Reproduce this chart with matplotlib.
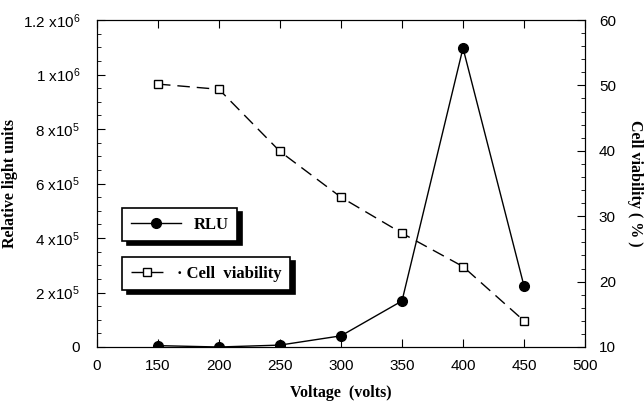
import matplotlib.pyplot as plt
from matplotlib.ticker import MultipleLocator

plt.rcParams['font.family'] = 'Liberation Sans'
plt.rcParams['mathtext.fontset'] = 'custom'
plt.rcParams['mathtext.rm'] = 'Liberation Sans'
plt.rcParams['mathtext.it'] = 'Liberation Sans'

# tick labels on the x axis (equally spaced on the original)
x_labels = ["0", "150", "200", "250", "300", "350", "400", "450", "500"]
voltage = [150, 200, 250, 300, 350, 400, 450]
rlu = [5000, 0, 7000, 41000, 169000, 1097000, 224000]
viability = [50.2, 49.4, 39.9, 32.9, 27.4, 22.3, 14.0]
rlu_labels = ["0", r"2 x10$^5$", r"4 x10$^5$", r"6 x10$^5$", r"8 x10$^5$",
              r"1 x10$^6$", r"1.2 x10$^6$"]

pos = [x_labels.index(str(v)) for v in voltage]

fig = plt.figure(figsize=(6.44, 4.03), dpi=100)
ax = fig.add_axes([97 / 644, 1 - 347 / 403, 488 / 644, 327 / 403])
ax2 = ax.twinx()

l1, = ax.plot(pos, rlu, color='k', lw=1, marker='o', ms=7, label="RLU")
l2, = ax2.plot(pos, viability, color='k', lw=1, ls=(0, (9, 5)), marker='s',
               ms=6, mfc='white', label="· Cell  viability")

ax.set_xlim(0, 8)
ax.set_ylim(0, 1.2e6)
ax2.set_ylim(10, 60)
ax.set_xticks(range(9))
ax.set_xticklabels(x_labels)
ax.set_yticks([i * 2e5 for i in range(7)])
ax.set_yticklabels(rlu_labels)
ax.yaxis.set_minor_locator(MultipleLocator(5e4))
ax2.set_yticks([10, 20, 30, 40, 50, 60])
ax2.yaxis.set_minor_locator(MultipleLocator(2))

ax.tick_params(axis='both', which='both', direction='in', labelsize=11)
ax.tick_params(axis='x', top=True, length=6, pad=9)
ax.tick_params(axis='y', which='major', length=6, pad=12)
ax.tick_params(axis='y', which='minor', length=3)
ax2.tick_params(axis='y', which='both', direction='in', labelsize=11)
ax2.tick_params(axis='y', which='major', length=6, pad=10)
ax2.tick_params(axis='y', which='minor', length=3)

serif = dict(family='Liberation Serif', weight='bold', size=11.5)
ax.set_xlabel("Voltage  (volts)", fontdict=serif, labelpad=8)
ax.set_ylabel("Relative light units", fontdict=serif)
ax.yaxis.set_label_coords(-0.162, 0.5)
ax2.set_ylabel("Cell viability ( % )", fontdict=serif, rotation=270,
               va='center')
ax2.yaxis.set_label_coords(1.102, 0.5)

legprop = dict(family='Liberation Serif', weight='bold', size=12)
shadow = dict(color='k', alpha=1, ox=3, oy=-3)
leg1 = ax2.legend(handles=[l1], loc='upper left', bbox_to_anchor=(0.035, 0.45),
                  frameon=True, fancybox=False, shadow=shadow, edgecolor='k',
                  framealpha=1, prop=legprop, handlelength=3, borderpad=0.5)
leg1.get_frame().set_linewidth(1.2)
ax2.add_artist(leg1)
leg2 = ax2.legend(handles=[l2], loc='upper left', bbox_to_anchor=(0.035, 0.3),
                  frameon=True, fancybox=False, shadow=shadow, edgecolor='k',
                  framealpha=1, prop=legprop, handlelength=2, borderpad=0.5)
leg2.get_frame().set_linewidth(1.2)

plt.savefig("out.png", dpi=100)
